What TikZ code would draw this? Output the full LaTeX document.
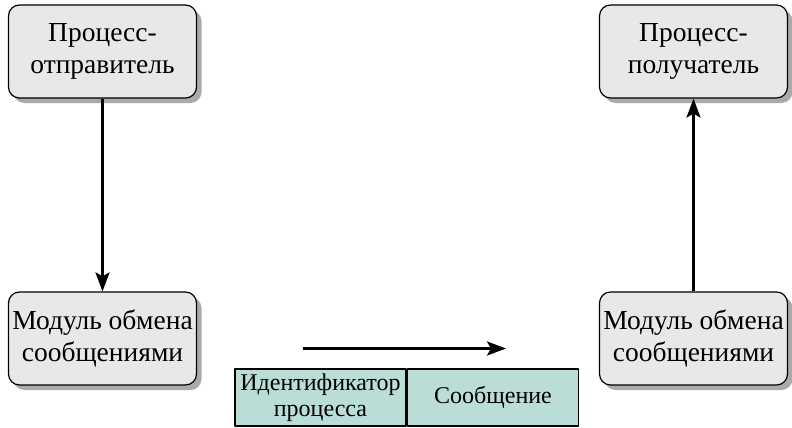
\documentclass[tikz,border=0pt]{standalone}
\usepackage{fontspec}
\setmainfont{Liberation Serif}
\usetikzlibrary{shadows,arrows.meta}
\definecolor{boxgray}{RGB}{232,232,232}
\definecolor{shadegray}{RGB}{170,170,170}
\definecolor{cellteal}{RGB}{186,221,216}
\begin{document}
\begin{tikzpicture}[x=1pt, y=-1pt, font=\rmfamily\fontsize{27.5}{32}\selectfont, line join=round, >={Stealth[length=19pt,width=14pt,inset=4pt]},
	proc/.style={draw, line width=1.2pt, rounded corners=11pt, fill=boxgray, minimum width=188pt, minimum height=93pt, align=center, inner sep=1pt,
		drop shadow={shadow xshift=5pt, shadow yshift=-5pt, fill=shadegray, opacity=1}},
	cell/.style={draw, line width=1.5pt, fill=cellteal, minimum width=171pt, minimum height=57pt, inner sep=0pt, align=center, font=\rmfamily\fontsize{24}{26}\selectfont},
	link/.style={->, line width=2.6pt}]
	\useasboundingbox (0,0) rectangle (792,428);
	\node[proc] (snd) at (102.5,51.5) {Процесс-\\отправитель};
	\node[proc] (sndmod) at (102.5,338.5) {Модуль обмена\\сообщениями};
	\node[proc] (rcv) at (693.5,51.5) {Процесс-\\получатель};
	\node[proc] (rcvmod) at (693.5,338.5) {Модуль обмена\\сообщениями};
	\draw[link] (snd) -- (sndmod);
	\draw[link] (rcvmod) -- (rcv);
	\path (303,348.5) coordinate (from) (506,348.5) coordinate (to);
	\draw[link] (from) -- (to);
	\node[cell] (pid) at (320.5,397.5) {Идентификатор\\процесса};
	\node[cell, anchor=west] (msg) at (pid.east) {Сообщение};
\end{tikzpicture}
\end{document}
